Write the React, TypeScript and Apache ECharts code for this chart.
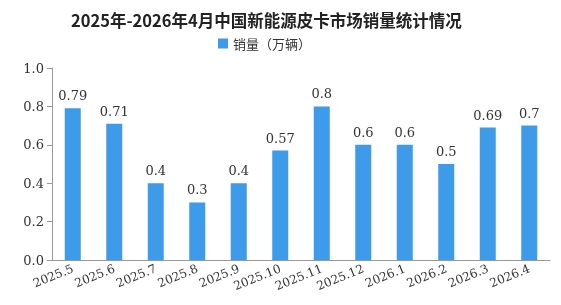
import React, { useEffect, useRef } from "react";
import * as echarts from "echarts";

const categories = ["2025.5", "2025.6", "2025.7", "2025.8", "2025.9", "2025.10", "2025.11", "2025.12", "2026.1", "2026.2", "2026.3", "2026.4"];
const sales = [0.79, 0.71, 0.4, 0.3, 0.4, 0.57, 0.8, 0.6, 0.6, 0.5, 0.69, 0.7];
const titleText = "2025年-2026年4月中国新能源皮卡市场销量统计情况";
const seriesName = "销量（万辆）";

const serif = "'DejaVu Serif', 'Liberation Serif', 'Noto Sans CJK SC', serif";

export default function App() {
  const ref = useRef<HTMLDivElement>(null);
  useEffect(() => {
    if (!ref.current) return;
    const chart = echarts.init(ref.current, undefined, { renderer: "svg" });
    chart.setOption({
      animation: false,
      title: {
        text: titleText,
        left: 66,
        top: 7,
        textStyle: { fontSize: 16.5, fontWeight: "bold", color: "#222", fontFamily: "'Noto Sans CJK SC', serif" },
      },
      legend: {
        top: 32,
        left: 213,
        itemWidth: 10,
        itemHeight: 10,
        icon: "rect",
        itemGap: 4,
        textStyle: { fontSize: 13, color: "#333", fontFamily: "'Noto Sans CJK SC', sans-serif" },
        data: [seriesName],
      },
      grid: { left: 52, right: 11, top: 68, bottom: 45 },
      xAxis: {
        type: "category",
        data: categories,
        axisLine: { lineStyle: { color: "#999" } },
        axisTick: { lineStyle: { color: "#999" }, length: 5 },
        axisLabel: { rotate: 22, fontSize: 12, color: "#333", fontFamily: serif, interval: 0, margin: 8 },
      },
      yAxis: {
        type: "value",
        min: 0,
        max: 1,
        interval: 0.2,
        splitLine: { show: false },
        axisLine: { show: true, lineStyle: { color: "#999" } },
        axisTick: { show: true, lineStyle: { color: "#999" }, length: 5 },
        axisLabel: {
          fontSize: 13,
          color: "#333",
          fontFamily: serif,
          formatter: (v: number) => v.toFixed(1),
        },
      },
      series: [
        {
          name: seriesName,
          type: "bar",
          data: sales,
          barWidth: 16,
          itemStyle: { color: "#3d9be9" },
          label: {
            show: true,
            position: "top",
            fontSize: 13,
            color: "#333",
            fontFamily: serif,
            distance: 6,
          },
        },
      ],
    });
    return () => chart.dispose();
  }, []);
  return <div ref={ref} style={{ position: "fixed", left: 0, top: 0, width: 561, height: 305 }} />;
}
